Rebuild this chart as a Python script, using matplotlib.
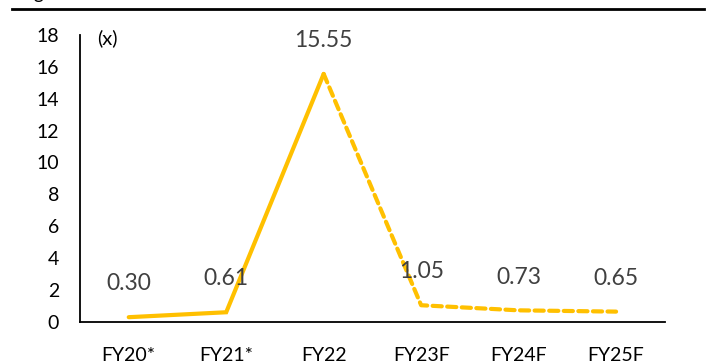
import matplotlib
matplotlib.use('agg')
import matplotlib.pyplot as plt
from matplotlib.lines import Line2D

years = ['FY20*', 'FY21*', 'FY22', 'FY23F', 'FY24F', 'FY25F']
values = [0.30, 0.61, 15.55, 1.05, 0.73, 0.65]
n_actual = 3  # FY20*..FY22 solid, rest dashed forecast

plt.rcParams['font.family'] = ['Lato', 'DejaVu Sans']
gold = '#FFC000'

fig = plt.figure(figsize=(7.08, 3.63), dpi=100)
ax = fig.add_axes([0.113, 0.113, 0.826, 0.791])

xs = list(range(len(years)))
ax.plot(xs[:n_actual], values[:n_actual], color=gold, lw=3.0,
        solid_capstyle='round', solid_joinstyle='miter')
ax.plot(xs[n_actual - 1:], values[n_actual - 1:], color=gold, lw=3.0,
        ls=(0, (2.2, 1.3)), dash_capstyle='round')

for x, v in zip(xs, values):
    ax.annotate(f'{v:.2f}', (x, v), xytext=(0, 24), textcoords='offset points',
                ha='center', va='center', fontsize=16.5, color='#404040')

ax.set_xlim(-0.5, len(years) - 0.5)
ax.set_ylim(0, 18)
ax.set_yticks(range(0, 19, 2))
ax.set_xticks(xs)
ax.set_xticklabels(years)
ax.tick_params(axis='both', length=0, labelsize=14, colors='black')
ax.tick_params(axis='x', pad=18)
ax.tick_params(axis='y', pad=15)
for s in ['top', 'right']:
    ax.spines[s].set_visible(False)
for s in ['left', 'bottom']:
    ax.spines[s].set_linewidth(1.3)
ax.text(0.03, 0.99, '(x)', transform=ax.transAxes, ha='left', va='center',
        fontsize=14.5)

# rule under the (cut off) figure title
fig.add_artist(Line2D([12 / 708, 704 / 708], [1 - 8.5 / 363] * 2,
                      color='black', lw=2.0, transform=fig.transFigure))
fig.text(18 / 708, 1 + 0.5 / 363, 'Figure', fontsize=14, va='baseline')

fig.savefig('out.png', dpi=100)
